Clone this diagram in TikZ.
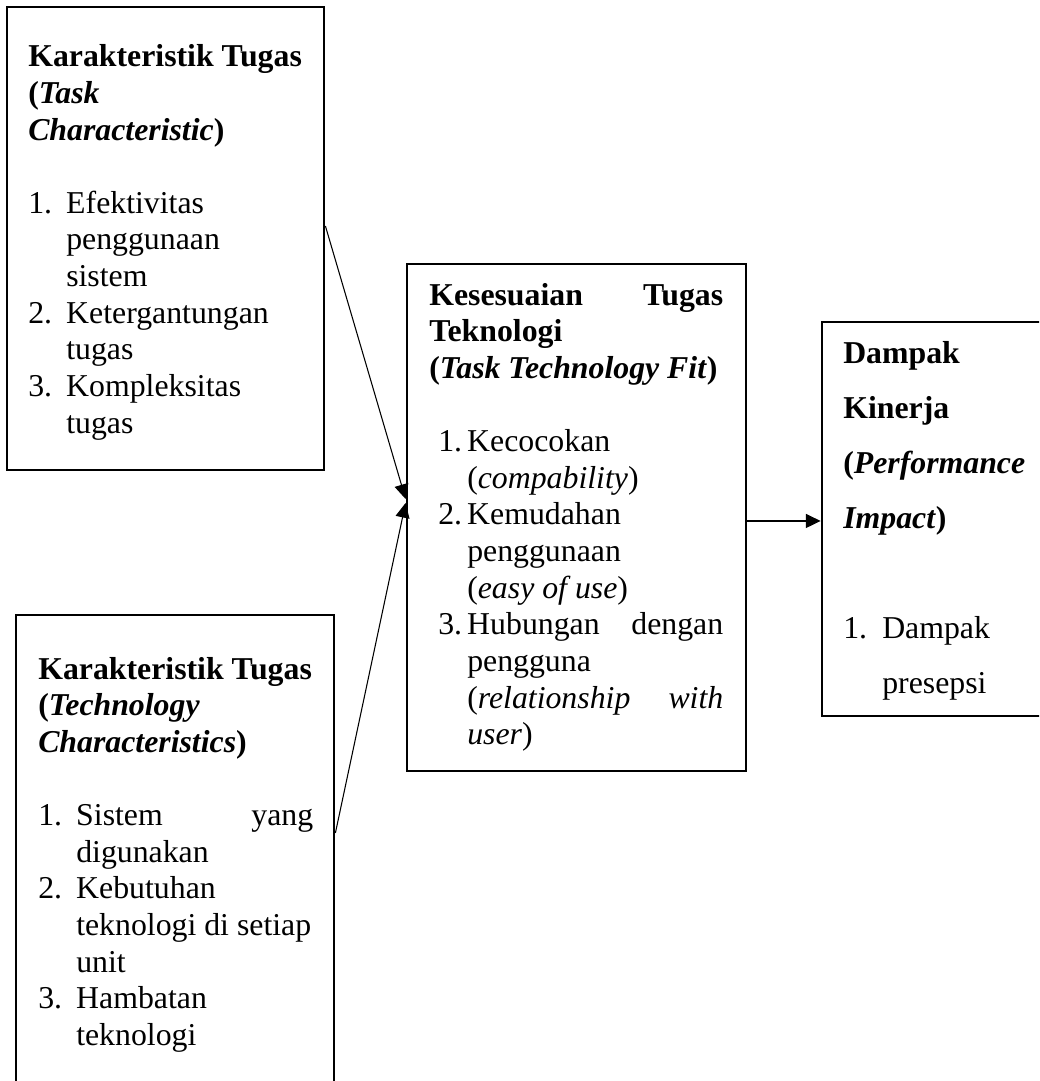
\documentclass[tikz,border=0pt]{standalone}
\usepackage{fontspec}
\setmainfont{Liberation Serif}
\usetikzlibrary{arrows.meta,fit}
\newlength\px
\setlength\px{0.75pt}
\newcommand\boxtext[3]{\parbox[t]{#1}{\fontsize{23.85pt}{#2}\selectfont\lineskiplimit=-100pt\parindent=0pt\raggedright #3}}
\newcommand\numi[2]{\makebox[#1][l]{#2}}
\tikzset{
  box/.style={draw, rectangle, line width=2.1pt, inner sep=0pt},
  arr/.style={-{Triangle[length=11pt,width=10.5pt]}, line width=0.8pt},
  txt/.style={anchor=base west, inner sep=0pt}
}
\begin{document}
\begin{tikzpicture}[x=0.75pt,y=-0.75pt]
\useasboundingbox (0,0) rectangle (1039,1081);
\fill[white] (0,0) rectangle (1039,1081);
\clip (0,0) rectangle (1039,1081);

% boxes
\node[box, fit={(7,7) (324,470)}] (b1) {};
\node[box, fit={(16,615) (334,1100)}] (b2) {};
\node[box, fit={(407,264) (746,771)}] (b3) {};
\node[box, fit={(822,322) (1070,716)}] (b4) {};

% box 1 text
\node[txt] (t1) at (28,66.7) {\boxtext{300\px}{27.49pt}{%
\textbf{Karakteristik Tugas}\\
\textbf{(\textit{Task}}\\
\textbf{\textit{Characteristic})}\\[27.49pt]
\numi{38\px}{1.}Efektivitas\\
\hspace*{38\px}penggunaan\\
\hspace*{38\px}sistem\\
\numi{38\px}{2.}Ketergantungan\\
\hspace*{38\px}tugas\\
\numi{38\px}{3.}Kompleksitas\\
\hspace*{38\px}tugas}};

% box 2 text
\node[txt] (t2) at (38,679) {\boxtext{300\px}{27.49pt}{%
\textbf{Karakteristik Tugas}\\
\textbf{(\textit{Technology}}\\
\textbf{\textit{Characteristics})}\\[27.49pt]
\numi{38\px}{1.}\hbox to 237\px{Sistem\hfill yang}\\
\hspace*{38\px}digunakan\\
\numi{38\px}{2.}Kebutuhan\\
\hspace*{38\px}teknologi di setiap\\
\hspace*{38\px}unit\\
\numi{38\px}{3.}Hambatan\\
\hspace*{38\px}teknologi}};

% box 3 text
\node[txt] (t3) at (429,305) {\boxtext{310\px}{27.49pt}{%
\textbf{\hbox to 294\px{Kesesuaian\hfill Tugas}}\\
\textbf{Teknologi}\\
\textbf{(\textit{Task Technology Fit})}\\[27.49pt]
\hspace*{9\px}\numi{29\px}{1.}Kecocokan\\
\hspace*{38\px}(\textit{compability})\\
\hspace*{9\px}\numi{29\px}{2.}Kemudahan\\
\hspace*{38\px}penggunaan\\
\hspace*{38\px}(\textit{easy of use})\\
\hspace*{9\px}\numi{29\px}{3.}\hbox to 256\px{Hubungan\hfill dengan}\\
\hspace*{38\px}pengguna\\
\hspace*{38\px}\hbox to 256\px{(\textit{relationship}\hfill\textit{with}}\\
\hspace*{38\px}\textit{user})}};

% box 4 text
\node[txt] (t4) at (843,363) {\boxtext{200\px}{41.25pt}{%
\textbf{Dampak}\\
\textbf{Kinerja}\\
\textbf{(\textit{Performance}}\\
\textbf{\textit{Impact})}\\[41.25pt]
\numi{39\px}{1.}Dampak\\
\hspace*{39\px}presepsi}};

% connectors
\draw[arr] ([yshift=9.4pt]b1.east) -- ([yshift=13.9pt]b3.west);
\draw[arr] ([yshift=18.4pt]b2.east) -- ([yshift=10.9pt]b3.west);
\draw[arr] ([yshift=-2.6pt]b3.east) -- ([yshift=-2.6pt]b3.east -| b4.west);
\end{tikzpicture}
\end{document}
